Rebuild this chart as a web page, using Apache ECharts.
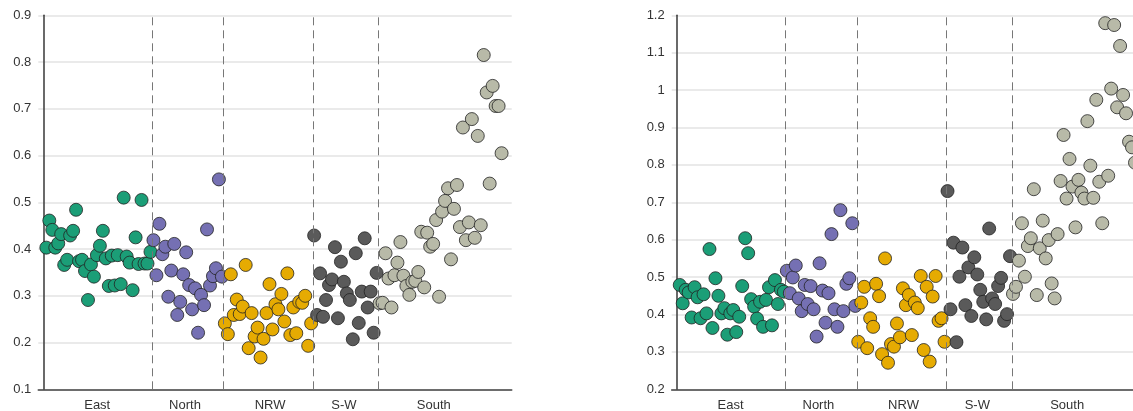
<!DOCTYPE html>
<html>
<head>
<meta charset="utf-8">
<script src="https://cdn.jsdelivr.net/npm/echarts@6/dist/echarts.min.js"></script>
<style>
html,body{margin:0;padding:0;background:#fff;}
#c{width:1133px;height:411px;}
</style>
</head>
<body>
<div id="c"></div>
<script>
// Region names and label positions (district index along x)
var regions = ['East', 'North', 'NRW', 'S-W', 'South'];
var labelPos = [18.1, 47.6, 76.2, 101.0, 131.2];
var boundaries = [36.6, 60.6, 90.7, 112.6];
var colors = ['#1b9e77', '#7570b3', '#e6ab02', '#5a5a5a', '#b8baa8'];

// Left panel values (district order)
var eastL = [0.403,0.461,0.441,0.403,0.412,0.432,0.366,0.377,0.429,0.439,0.484,0.374,0.377,0.353,0.291,0.367,0.341,0.387,0.407,0.439,0.380,0.321,0.386,0.322,0.387,0.325,0.510,0.384,0.371,0.312,0.425,0.368,0.505,0.369,0.369,0.394];
var northL = [0.419,0.344,0.454,0.389,0.405,0.298,0.354,0.411,0.259,0.287,0.346,0.393,0.323,0.271,0.316,0.221,0.302,0.280,0.442,0.322,0.342,0.359,0.549,0.341];
var nrwL = [0.241,0.218,0.346,0.259,0.292,0.261,0.277,0.366,0.188,0.263,0.213,0.232,0.168,0.208,0.263,0.325,0.228,0.282,0.271,0.304,0.245,0.348,0.216,0.275,0.220,0.287,0.285,0.300,0.193,0.241];
var swL = [0.429,0.259,0.348,0.255,0.291,0.323,0.335,0.404,0.252,0.373,0.330,0.305,0.291,0.207,0.391,0.242,0.309,0.423,0.275,0.309,0.221,0.349];
var southL = [0.284,0.285,0.391,0.337,0.275,0.344,0.371,0.415,0.343,0.321,0.302,0.330,0.332,0.351,0.437,0.318,0.435,0.405,0.411,0.462,0.298,0.480,0.503,0.530,0.378,0.486,0.537,0.447,0.660,0.419,0.457,0.678,0.424,0.642,0.451,0.815,0.735,0.540,0.749,0.706,0.706,0.605];

// Right panel values (same district order)
var eastR = [0.479,0.430,0.466,0.459,0.392,0.473,0.446,0.390,0.454,0.403,0.575,0.364,0.497,0.450,0.403,0.417,0.346,0.403,0.412,0.353,0.394,0.476,0.604,0.564,0.441,0.421,0.389,0.434,0.367,0.439,0.473,0.371,0.492,0.428,0.466,0.461];
var northR = [0.517,0.457,0.499,0.531,0.443,0.409,0.479,0.428,0.476,0.414,0.341,0.537,0.464,0.378,0.457,0.615,0.414,0.367,0.679,0.409,0.482,0.497,0.644,0.423];
var nrwR = [0.327,0.432,0.474,0.310,0.390,0.367,0.482,0.449,0.294,0.550,0.271,0.321,0.314,0.376,0.339,0.470,0.425,0.452,0.345,0.432,0.417,0.503,0.305,0.474,0.274,0.448,0.503,0.383,0.390,0.327];
var swR = [0.730,0.414,0.592,0.326,0.501,0.579,0.425,0.526,0.396,0.553,0.507,0.466,0.434,0.387,0.630,0.443,0.428,0.476,0.498,0.383,0.401,0.556];
var southR = [0.455,0.474,0.544,0.644,0.501,0.583,0.604,0.735,0.452,0.577,0.651,0.550,0.599,0.483,0.443,0.615,0.757,0.880,0.710,0.816,0.742,0.633,0.760,0.726,0.710,0.917,0.798,0.712,0.974,0.755,0.644,1.179,0.771,1.004,1.174,0.954,1.118,0.987,0.938,0.862,0.847,0.806];

var leftSets = [eastL, northL, nrwL, swL, southL];
var rightSets = [eastR, northR, nrwR, swR, southR];

function toPoints(sets) {
  var out = [], idx = 1;
  sets.forEach(function (arr) {
    var pts = [];
    arr.forEach(function (v) { pts.push([idx, v]); idx++; });
    out.push(pts);
  });
  return out;
}

var font = 'Liberation Sans, Arial, Helvetica, sans-serif';

function xAxisCfg(gi) {
  return {
    type: 'value', gridIndex: gi, min: -1.7, max: 157.4,
    splitLine: { show: false },
    axisTick: { show: false },
    axisLine: { show: true, lineStyle: { color: '#444', width: 1.6 } },
    axisLabel: {
      show: true, customValues: labelPos, margin: 10,
      color: '#333', fontSize: 13, fontFamily: font,
      formatter: function (v) {
        for (var i = 0; i < labelPos.length; i++) if (Math.abs(labelPos[i] - v) < 1e-6) return regions[i];
        return '';
      }
    }
  };
}
function yAxisCfg(gi, mn, mx) {
  return {
    type: 'value', gridIndex: gi, min: mn, max: mx, interval: 0.1,
    axisTick: { show: false },
    axisLine: { show: true, lineStyle: { color: '#444', width: 1.6 } },
    splitLine: { show: true, lineStyle: { color: '#e3e3e3', width: 1.5 } },
    axisLabel: { color: '#333', fontSize: 13, fontFamily: font, margin: 7 }
  };
}

var series = [];
[toPoints(leftSets), toPoints(rightSets)].forEach(function (panel, gi) {
  panel.forEach(function (pts, r) {
    series.push({
      type: 'scatter', xAxisIndex: gi, yAxisIndex: gi, data: pts,
      symbolSize: 13, name: regions[r],
      itemStyle: { color: colors[r], borderColor: '#222', borderWidth: 0.8, opacity: 1 },
      emphasis: { disabled: true }, z: 2
    });
  });
  series.push({
    type: 'scatter', xAxisIndex: gi, yAxisIndex: gi, data: [], z: 5, silent: true,
    markLine: {
      silent: true, symbol: ['none', 'none'], animation: false,
      label: { show: false },
      lineStyle: { color: '#777', width: 1, type: [8, 5] },
      data: boundaries.map(function (b) { return { xAxis: b }; })
    }
  });
});

var chart = echarts.init(document.getElementById('c'), null, { renderer: 'canvas' });
chart.setOption({
  animation: false,
  backgroundColor: '#fff',
  grid: [
    { left: 38.3, top: 15.3, width: 473.4, height: 374, outerBoundsMode: 'none', containLabel: false },
    { left: 671.7, top: 15.3, width: 473.4, height: 374, outerBoundsMode: 'none', containLabel: false }
  ],
  xAxis: [xAxisCfg(0), xAxisCfg(1)],
  yAxis: [yAxisCfg(0, 0.1, 0.9), yAxisCfg(1, 0.2, 1.2)],
  series: series
});
</script>
</body>
</html>
